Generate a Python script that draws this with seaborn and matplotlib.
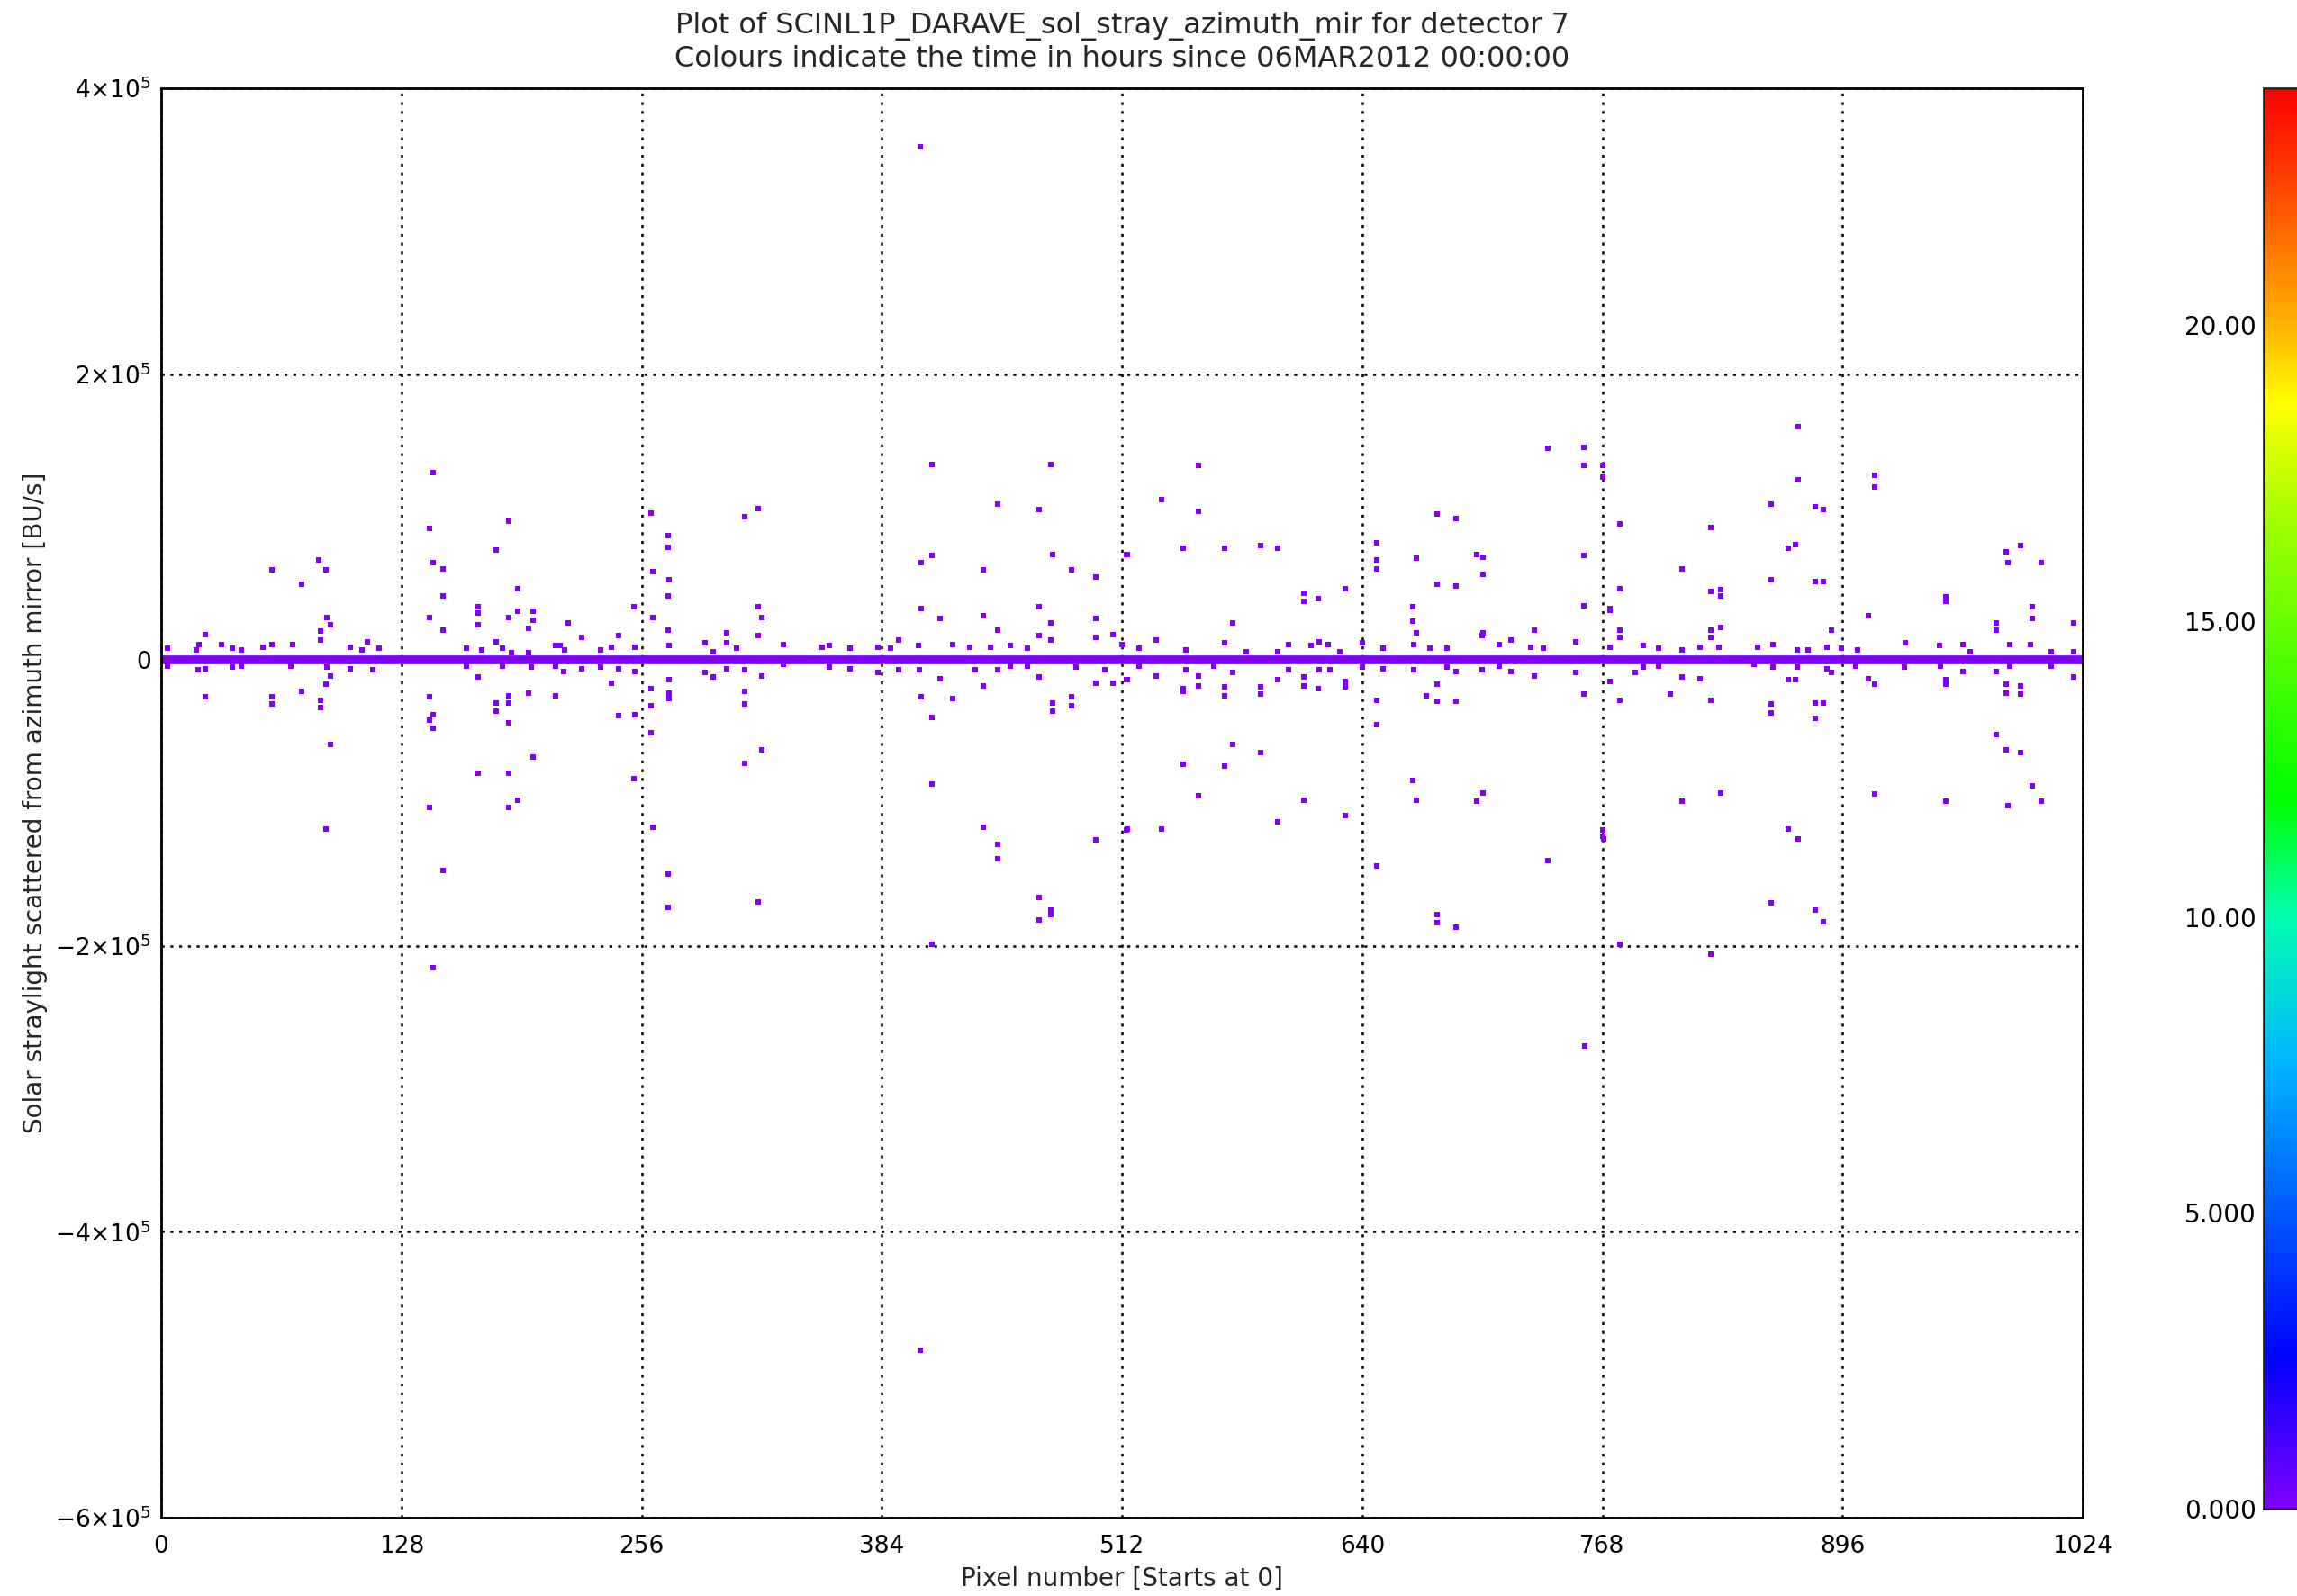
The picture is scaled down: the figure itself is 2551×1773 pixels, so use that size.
import numpy as np
import pandas as pd
import matplotlib
matplotlib.use("Agg")
import matplotlib.pyplot as plt
import seaborn as sns
from matplotlib.colors import LinearSegmentedColormap, Normalize
from matplotlib.cm import ScalarMappable

# (pixel, straylight in kBU/s), split by pixel block
block_0_255 = [
    (145, 131), (143, 92), (185, 97), (178.5, 77), (145, 68), (150, 64), (190, 50), (150, 45),
    (169, 37), (169, 33), (143, 30), (185, 30), (190, 34), (198, 34), (198, 28), (169, 25),
    (196, 22), (217, 26), (252, 37), (224, 16), (244, 17), (150, 21), (178.5, 13), (210, 10),
    (84, 70), (88, 63), (59, 63), (75, 53), (88.5, 30), (90, 25), (85, 20), (23.5, 18),
    (85, 14), (59, 11), (32, 11), (20, 11),
    (23.5, -26), (59, -26), (59, -31), (75, -22), (85, -28), (85, -33), (88, -17), (90, -59),
    (88, -118), (143, -26), (145, -38), (143, -42), (145, -48), (178.5, -30), (178.5, -36),
    (185, -25), (185, -30), (185, -44), (169, -12), (196, -23), (210, -25), (198, -68),
    (169, -79), (185, -79), (143, -103), (185, -103), (190, -98), (150, -147), (244, -39),
    (252.5, -38), (252, -83), (240, -16), (145, -215),
    (3.5, 8), (18.5, 7), (38, 8), (42.7, 7), (54, 9), (70, 11), (101, 9), (107, 7), (110, 13),
    (116, 8), (3.5, -4), (19.7, -7), (23.5, -6), (38, -5), (42.7, -4), (69, -4), (101, -6),
    (113, -7), (88.5, -5), (90, -11), (162.7, 8), (171, 7), (182, 8), (186.5, 5), (196, 5),
    (212.7, 10), (215, 7), (234, 7), (240, 9), (252.5, 9), (162.7, -4), (182, -4), (197, -5),
    (210, -4), (214.7, -8), (224, -6), (234, -5), (244, -6), (252.5, -8),
]
block_256_511 = [
    (410.7, 137), (474, 137), (261, 103), (318, 106), (311, 100), (446, 109), (468, 105),
    (270, 87), (270, 79), (262, 62), (270.7, 56), (270, 45), (262, 30), (270, 21), (270.7, 10),
    (318, 37), (320, 30), (318, 17), (410.7, 73), (405, 68), (438, 63), (475, 74), (485, 63),
    (498, 58), (405, 36), (415, 29), (438, 31), (446, 21), (468, 37), (474, 26), (468, 17),
    (498, 29), (498, 16), (507, 18), (474, 14), (422, 11), (393, 14),
    (261, -20), (261, -32), (261, -51), (270.7, -14), (270.7, -23), (270.7, -27), (311, -7),
    (311, -22), (311, -31), (311, -72), (320, -63), (320, -11), (294, -12), (415, -13),
    (405, -26), (422, -27), (410.7, -40), (410.7, -87), (438, -18), (468, -12), (475, -30),
    (475, -36), (485, -26), (485, -32), (498, -16), (507, -16), (262, -117), (270, -150),
    (270, -173), (318, -169), (438, -117), (446, -129), (446, -139), (468, -166), (474, -175),
    (474, -178), (468, -182), (498, -126), (410.7, -199),
    (404.5, 359), (404.5, -483),
    (290, 12), (294, 6), (301.5, 19), (301.5, 12), (306.5, 8), (331.5, 11), (352, 9), (356, 10),
    (367, 8), (382, 9), (388.5, 8), (403.5, 10), (430.7, 9), (442, 9), (452.7, 10), (461.5, 8),
    (290, -9), (301.5, -6), (331.5, -3), (356, -5), (367, -6), (382, -9), (393, -7), (404, -7),
    (434, -7), (446, -7), (452.7, -4), (461.5, -4), (487.7, -5), (502.7, -7),
]
block_512_767 = [
    (514.5, 74), (512, 11), (514.5, -14), (514.5, -119),
    (553, 136), (553, 104), (533, 112), (544.5, 78), (566.7, 78), (586, 80), (595, 78),
    (515, 74), (609, 47), (609, 41), (616.5, 43), (631, 50), (571, 26), (530, 14), (566.7, 12),
    (680, 102), (690, 99), (739, 148), (758, 149), (758, 136), (648, 82), (648, 70), (648, 64),
    (668.7, 71), (701, 74), (704.5, 72), (704.5, 60), (758, 73), (680, 53), (690, 52),
    (667, 37), (667, 27), (668.7, 19), (758, 38), (731.7, 21), (704.5, 19), (719.5, 14),
    (515, -14), (530, -11), (544.5, -20), (544.5, -22), (553, -11), (553, -18), (566.7, -19),
    (566.7, -25), (571, -9), (586, -19), (586, -24), (595, -14), (609, -12), (609, -18),
    (616.5, -20), (631, -15), (631, -19), (648, -28), (648, -45), (680, -17), (674, -25),
    (680, -29), (690, -29), (690, -8), (758, -24), (571, -59), (586, -65), (544.5, -73),
    (566.7, -74), (553, -95), (515, -118), (533, -118), (595, -113), (609, -98), (631, -109),
    (667, -84), (668.7, -98), (704.5, -93), (701, -99), (648, -144), (739, -140), (680, -178),
    (680, -184), (690, -187), (758.6, -270),
    (521, 8), (546, 7), (578, 6), (595, 6), (601, 11), (613, 10), (617, 13), (622, 11), (628, 6),
    (640, 12), (651, 8), (667.5, 11), (676, 8), (685, 8), (704, 17), (713, 11), (730, 9),
    (736.7, 8), (754, 13), (521, -4), (546, -7), (561, -4), (601, -7), (617, -7), (623, -7),
    (640, -5), (651, -6), (667.5, -7), (685, -5), (704, -7), (713, -4), (719.5, -8),
    (731.7, -11), (754, -9),
]
block_768_1023 = [
    (768, 136), (768, 128), (772, 36), (772, -15), (768, -119), (768.5, -125),
    (872.5, 163), (872.5, 126), (858, 109), (881.7, 107), (886, 105), (913, 129), (913, 121),
    (777.5, 95), (826, 93), (810.5, 64), (871, 81), (867, 78), (858, 56), (881.7, 55), (886, 55),
    (777.5, 50), (826, 48), (831, 49), (831, 45), (772, 35), (777.5, 21), (777.5, 16), (826, 21),
    (826, 16), (831, 23), (890, 21), (909.7, 31), (951, 44), (951, 41), (983, 76), (991, 80),
    (984, 68), (1002, 68), (997, 37), (997, 29), (978, 26), (978, 21), (1019, 26), (929.7, 12),
    (777.5, -28), (785.5, -9), (804, -24), (810.5, -12), (820, -13), (826, -28), (858, -31),
    (858, -37), (867, -14), (871, -14), (881.7, -30), (886, -30), (881.7, -41), (890, -9),
    (909.7, -13), (913, -17), (951, -14), (951, -17), (978, -8), (983, -17), (983, -23),
    (991, -18), (991, -24), (1019, -12), (978, -52), (983, -63), (991, -65), (997, -88),
    (1002, -99), (984, -102), (951, -99), (913, -94), (831, -93), (810.5, -99), (768, -123),
    (867, -118), (872.5, -125), (858, -170), (881.7, -175), (886, -183), (777.5, -199),
    (826, -206),
    (772, 9), (790, 10), (798, 8), (810.5, 7), (820, 9), (830, 9), (851, 9), (859, 11), (872, 7),
    (877.5, 7), (887.5, 9), (895.5, 8), (904, 7), (947.5, 10), (960, 11), (964, 6), (985, 11),
    (996, 11), (1007, 6), (1019, 6), (790, -5), (798, -4), (849, -3), (859, -5), (872, -5),
    (887.5, -6), (903, -4), (929, -5), (948, -4), (960, -8), (985, -4), (1007, -4),
]

# the dense band of near-zero values along every pixel
band_pixel = [0, 1023]
band_kbu = [0, 0]

x_ticks = [0, 128, 256, 384, 512, 640, 768, 896, 1024]
y_ticks = [-6e5, -4e5, -2e5, 0, 2e5, 4e5]
y_tick_labels = [r"$-6{\times}10^{5}$", r"$-4{\times}10^{5}$", r"$-2{\times}10^{5}$", "0",
                 r"$2{\times}10^{5}$", r"$4{\times}10^{5}$"]
hours_range = [0, 24]
cbar_ticks = [0, 5, 10, 15, 20]
cbar_minor = [2.5, 7.5, 12.5, 17.5, 22.5]
cbar_labels = ["0.000", "5.000", "10.00", "15.00", "20.00"]

# IDL-like rainbow: purple -> blue -> cyan -> green -> yellow -> red
rainbow = LinearSegmentedColormap.from_list("idl_rainbow", [
    (0.0, "#7f00ff"), (2.5 / 24, "#0000ff"), (7.5 / 24, "#00b4ff"), (10 / 24, "#00ffb0"),
    (12 / 24, "#00ff00"), (16.7 / 24, "#a0ff00"), (18.7 / 24, "#ffff00"), (20 / 24, "#ffb400"),
    (22.5 / 24, "#ff4000"), (1.0, "#ff0000")])
point_colour = rainbow(0.0)

points = pd.DataFrame(block_0_255 + block_256_511 + block_512_767 + block_768_1023,
                      columns=["pixel", "kbu"])
points["stray"] = points["kbu"] * 1000
band = pd.DataFrame({"pixel": band_pixel, "stray": np.array(band_kbu) * 1000})

sns.set_theme(style="white")
plt.rcParams["font.family"] = ["DejaVu Sans"]
plt.rcParams["mathtext.fontset"] = "dejavusans"

fig = plt.figure(figsize=(25.51, 17.73), dpi=100)
ax = fig.add_axes([179 / 2551, 1 - 1686 / 1773, 2134 / 2551, 1588 / 1773])

sns.lineplot(data=band, x="pixel", y="stray", color=point_colour, linewidth=7, ax=ax)
sns.scatterplot(data=points, x="pixel", y="stray", color=point_colour, marker="s", s=24,
                linewidth=0, ax=ax, zorder=3)

ax.set_xlim(0, 1024)
ax.set_ylim(-6e5, 4e5)
ax.set_xticks(x_ticks)
ax.set_yticks(y_ticks)
ax.set_yticklabels(y_tick_labels)
ax.tick_params(length=0, labelsize=19, colors="black")
ax.tick_params(axis="x", pad=14)
ax.tick_params(axis="y", pad=8)
ax.grid(True, color="black", linestyle=(0, (1.3, 2.6)), linewidth=1.8)
for s in ax.spines.values():
    s.set_color("black")
    s.set_linewidth(2)

ax.set_xlabel("Pixel number [Starts at 0]", fontsize=20, labelpad=6)
ax.set_ylabel("Solar straylight scattered from azimuth mirror [BU/s]", fontsize=20, labelpad=6)

fig.text(0.4885, 1 - 29 / 1773, "Plot of SCINL1P_DARAVE_sol_stray_azimuth_mir for detector 7",
         ha="center", va="center", fontsize=23)
fig.text(0.4885, 1 - 66 / 1773, "Colours indicate the time in hours since 06MAR2012 00:00:00",
         ha="center", va="center", fontsize=23)

cax = fig.add_axes([2514 / 2551, 1 - 1676 / 1773, 45 / 2551, 1578 / 1773])
cb = fig.colorbar(ScalarMappable(norm=Normalize(*hours_range), cmap=rainbow), cax=cax)
cb.outline.set_linewidth(2)
cb.set_ticks(cbar_ticks)
cb.set_ticklabels(cbar_labels)
cax.set_yticks(cbar_minor, minor=True)
cax.yaxis.tick_left()
cax.tick_params(which="both", direction="in", left=True, right=True, labelleft=True,
                labelright=False, length=9, width=2, labelsize=20, pad=6, colors="black")

fig.savefig("out.png", dpi=100)
